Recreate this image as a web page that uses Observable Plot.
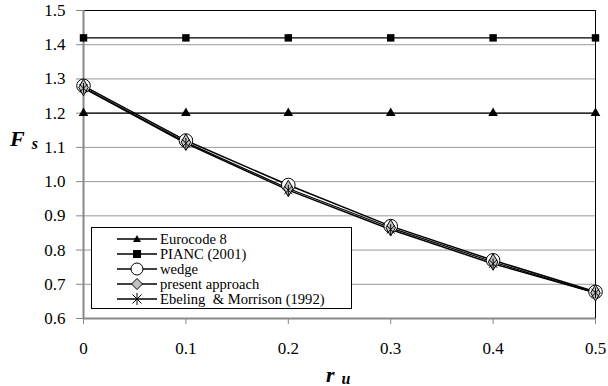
<!DOCTYPE html>
<html>
<head>
<meta charset="utf-8">
<script src="https://cdn.jsdelivr.net/npm/d3@7"></script>
<script src="https://cdn.jsdelivr.net/npm/@observablehq/plot@0.6"></script>
<style>
  body { margin: 0; background: #fff; font-family: 'Liberation Serif', serif; }
  #wrap { position: relative; width: 608px; height: 386px; font-family: 'Liberation Serif', serif; }
  .lbl { position: absolute; font-family: 'Liberation Serif', serif; font-weight: bold; font-style: italic; white-space: nowrap; line-height: 1; }
  #legend { position: absolute; left: 91px; top: 227px; width: 261px; height: 82px; border: 1px solid #000; background: #fff; box-sizing: border-box; }
  .row { position: absolute; left: 0; height: 14px; display: flex; align-items: center; font-size: 14.6px; line-height: 14px; font-family: 'Liberation Serif', serif; white-space: nowrap; }
  .row svg { margin-left: 25px; margin-right: 3px; flex: none; }
</style>
</head>
<body>
<div id="wrap"></div>
<script>
const ru = [0, 0.1, 0.2, 0.3, 0.4, 0.5];
const eurocode8 = [1.2, 1.2, 1.2, 1.2, 1.2, 1.2];
const pianc2001 = [1.42, 1.42, 1.42, 1.42, 1.42, 1.42];
const wedge = [1.28, 1.12, 0.99, 0.87, 0.77, 0.678];
const presentApproach = [1.275, 1.115, 0.98, 0.865, 0.765, 0.675];
const ebelingMorrison = [1.273, 1.112, 0.975, 0.86, 0.76, 0.675];
const seriesNames = ["Eurocode 8", "PIANC (2001)", "wedge", "present approach", "Ebeling  & Morrison (1992)"];
const xTicks = [0, 0.1, 0.2, 0.3, 0.4, 0.5];
const yTicks = [0.6, 0.7, 0.8, 0.9, 1.0, 1.1, 1.2, 1.3, 1.4, 1.5];

const FONT = "Liberation Serif";
const rows = (vals) => ru.map((x, i) => ({x, y: vals[i]}));

// custom asterisk: X plus vertical bar
const starSymbol = {
  draw(ctx, size) {
    const r = Math.sqrt(size) / 2;
    const d = r * 0.75;
    ctx.moveTo(0, -r); ctx.lineTo(0, r);
    ctx.moveTo(-d, -d); ctx.lineTo(d, d);
    ctx.moveTo(-d, d); ctx.lineTo(d, -d);
  }
};

const chart = Plot.plot({
  width: 608,
  height: 386,
  marginLeft: 83,
  marginRight: 13,
  marginTop: 10,
  marginBottom: 68,
  style: { fontFamily: FONT, fontSize: "16px", background: "#fff", overflow: "visible" },
  x: { domain: [0, 0.5], label: null, axis: null },
  y: { domain: [0.6, 1.5], label: null, axis: null },
  marks: [
    Plot.gridY(yTicks, { stroke: "#999", strokeOpacity: 1, strokeWidth: 1 }),
    Plot.frame({ stroke: "#000", strokeWidth: 1 }),
    Plot.ruleX([0], { stroke: "#888", strokeWidth: 2 }),
    Plot.ruleY([0.6], { stroke: "#888", strokeWidth: 2 }),
    Plot.axisY(yTicks, { tickSize: 7, stroke: "#888", tickFormat: () => "" }),
    Plot.text(yTicks, { y: d => d, frameAnchor: "left", textAnchor: "end", dx: -18, text: d3.format(".1f"), fill: "#000", fontSize: 17, fontFamily: FONT }),
    Plot.axisX(xTicks, { tickSize: 6, tickPadding: 17, stroke: "#888", tickFormat: d => d === 0 ? "0" : d.toFixed(1), fill: "#000", fontSize: 17, fontFamily: FONT }),
    // lines
    Plot.line(rows(eurocode8), { x: "x", y: "y", stroke: "#000", strokeWidth: 1.2 }),
    Plot.line(rows(pianc2001), { x: "x", y: "y", stroke: "#000", strokeWidth: 1.2 }),
    Plot.line(rows(wedge), { x: "x", y: "y", stroke: "#000", strokeWidth: 1.5 }),
    Plot.line(rows(presentApproach), { x: "x", y: "y", stroke: "#000", strokeWidth: 1.2 }),
    Plot.line(rows(ebelingMorrison), { x: "x", y: "y", stroke: "#000", strokeWidth: 1.5 }),
    // markers
    Plot.dot(rows(eurocode8), { x: "x", y: "y", symbol: "triangle", r: 3.6, fill: "#000", stroke: "none" }),
    Plot.dot(rows(pianc2001), { x: "x", y: "y", symbol: "square", r: 4.2, fill: "#000", stroke: "none" }),
    Plot.dot(rows(wedge), { x: "x", y: "y", symbol: "circle", r: 6.8, fill: "#fff", stroke: "#000", strokeWidth: 1 }),
    Plot.dot(rows(presentApproach), { x: "x", y: "y", symbol: "diamond", r: 5, fill: "#c0c0c0", stroke: "#000", strokeWidth: 1 }),
    Plot.dot(rows(ebelingMorrison), { x: "x", y: "y", symbol: starSymbol, r: 6, fill: "none", stroke: "#000", strokeWidth: 1 })
  ]
});

const wrap = document.getElementById("wrap");
wrap.appendChild(chart);

// axis titles
const fl = document.createElement("div");
fl.className = "lbl";
fl.style.left = "10px"; fl.style.top = "128px";
fl.innerHTML = '<span style="font-size:22px">F</span><span style="font-size:16px;margin-left:7px;position:relative;top:3px">s</span>';
wrap.appendChild(fl);

const xl = document.createElement("div");
xl.className = "lbl";
xl.style.left = "326px"; xl.style.top = "364px";
xl.innerHTML = '<span style="font-size:22px">r</span><span style="font-size:16px;margin-left:7px;position:relative;top:2px">u</span>';
wrap.appendChild(xl);

// legend
const legend = document.createElement("div");
legend.id = "legend";
wrap.appendChild(legend);
const symSvgs = [
  '<polygon points="20,3 24,10 16,10" fill="#000"/>',
  '<rect x="16" y="3" width="8" height="8" fill="#000"/>',
  '<circle cx="20" cy="7" r="6" fill="#fff" stroke="#000"/>',
  '<polygon points="20,1.5 25.5,7 20,12.5 14.5,7" fill="#c0c0c0" stroke="#000"/>',
  '<path d="M20,1V13M15.5,2.5L24.5,11.5M15.5,11.5L24.5,2.5" stroke="#000" fill="none"/>'
];
const rowTops = [4, 19, 34, 49, 64];
seriesNames.forEach((name, i) => {
  const r = document.createElement("div");
  r.className = "row";
  r.style.top = rowTops[i] + "px";
  r.innerHTML = `<svg width="40" height="14" viewBox="0 0 40 14"><line x1="0" x2="40" y1="7" y2="7" stroke="#000" stroke-width="1.3"/>${symSvgs[i]}</svg><span style="white-space:pre;line-height:14px">${name}</span>`;
  legend.appendChild(r);
});
</script>
</body>
</html>
